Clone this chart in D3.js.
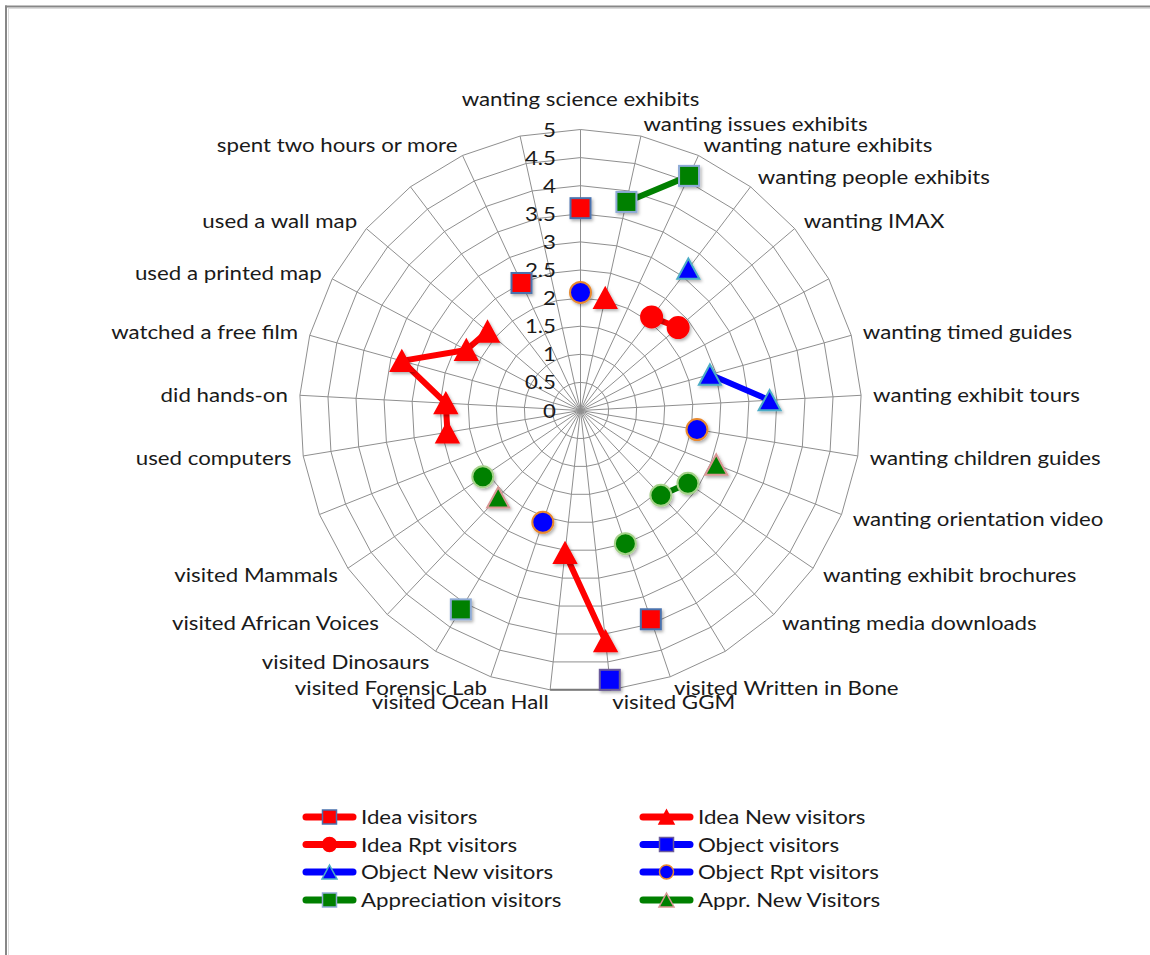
<!DOCTYPE html>
<html>
<head>
<meta charset="utf-8">
<script src="https://cdn.jsdelivr.net/npm/d3@7"></script>
<style>
html,body{margin:0;padding:0;background:#fff;}
svg{display:block;}
text{font-family:Lato,"Liberation Sans",sans-serif;fill:#1a1a1a;}
</style>
</head>
<body>
<svg id="chart" width="1150" height="955"></svg>
<script>
const N = null;
const categories = ["wanting science exhibits","wanting issues exhibits","wanting nature exhibits","wanting people exhibits","wanting IMAX","","wanting timed guides","wanting exhibit tours","wanting children guides","wanting orientation video","wanting exhibit brochures","wanting media downloads","","visited Written in Bone","visited GGM","visited Ocean Hall","visited Forensic Lab","visited Dinosaurs","visited African Voices","visited Mammals","","used computers","did hands-on","watched a free film","used a printed map","used a wall map","","spent two hours or more",""];
const valueTicks = [0,0.5,1,1.5,2,2.5,3,3.5,4,4.5,5];

const ideaVisitors        = [3.6,N,N,N,N,N,N,N,N,N,N,N,N,3.92,N,N,N,N,N,N,N,N,N,N,N,N,N,2.5,N];
const ideaNewVisitors     = [N,2.05,N,N,N,N,N,N,N,N,N,N,N,N,4.13,2.55,N,N,N,N,N,2.4,2.4,3.3,2.3,2.17,N,N,N];
const ideaRptVisitors     = [N,N,N,2.09,2.28,N,N,N,N,N,N,N,N,N,N,N,N,N,N,N,N,N,N,N,N,N,N,N,N];
const objectVisitors      = [N,N,N,N,N,N,N,N,N,N,N,N,N,N,4.82,N,N,N,N,N,N,N,N,N,N,N,N,N,N];
const objectNewVisitors   = [N,N,N,3.17,N,N,2.39,3.37,N,N,N,N,N,N,N,N,N,N,N,N,N,N,N,N,N,N,N,N,N];
const objectRptVisitors   = [2.1,N,N,N,N,N,N,N,2.1,N,N,N,N,N,N,N,2.1,N,N,N,N,N,N,N,N,N,N,N,N];
const apprVisitors        = [N,3.8,4.6,N,N,N,N,N,N,N,N,N,N,N,N,N,N,4.13,N,N,N,N,N,N,N,N,N,N,N];
const apprNewVisitors     = [N,N,N,N,N,N,N,N,N,2.6,N,N,N,N,N,N,N,N,2.13,N,N,N,N,N,N,N,N,N,N];
const apprRptVisitors     = [N,N,N,N,N,N,N,N,N,N,2.31,2.08,N,2.5,N,N,N,N,N,2.1,N,N,N,N,N,N,N,N,N];

const legendNames = ["Idea visitors","Idea New visitors","Idea Rpt visitors","Object visitors","Object New visitors","Object Rpt visitors","Appreciation visitors","Appr. New Visitors"];

const RED="#ff0000", BLUE="#0000ff", GREEN="#008000";
const series = [
  {name:legendNames[0], values:ideaVisitors,      color:RED,   shape:"square",   stroke:"#4a72ad", legend:true},
  {name:legendNames[1], values:ideaNewVisitors,   color:RED,   shape:"triangle", stroke:"#ff0000", legend:true},
  {name:legendNames[2], values:ideaRptVisitors,   color:RED,   shape:"circle",   stroke:"#ff0000", legend:true},
  {name:legendNames[3], values:objectVisitors,    color:BLUE,  shape:"square",   stroke:"#6a5a9c", legend:true},
  {name:legendNames[4], values:objectNewVisitors, color:BLUE,  shape:"triangle", stroke:"#4bacc6", legend:true},
  {name:legendNames[5], values:objectRptVisitors, color:BLUE,  shape:"circle",   stroke:"#e8892f", legend:true},
  {name:legendNames[6], values:apprVisitors,      color:GREEN, shape:"square",   stroke:"#8eaad6", legend:true},
  {name:legendNames[7], values:apprNewVisitors,   color:GREEN, shape:"triangle", stroke:"#d99694", legend:true},
  {name:"Appr. Rpt Visitors", values:apprRptVisitors, color:GREEN, shape:"circle", stroke:"#a6d28a", legend:false}
];

const W=1150, H=955, cx=580.5, cy=410.5, R=281;
const svg = d3.select("#chart");
const FONT = 20;

// horizontal scale calibration of the text face
const probe = svg.append("text").attr("font-size",FONT).text(categories[0]);
const kx = 238 / probe.node().getComputedTextLength();
probe.remove();

const defs = svg.append("defs");
const f = defs.append("filter").attr("id","shadow").attr("x","-50%").attr("y","-50%").attr("width","200%").attr("height","200%");
f.append("feDropShadow").attr("dx",1.5).attr("dy",2).attr("stdDeviation",1.5).attr("flood-color","#000").attr("flood-opacity",0.3);

// frame
svg.append("line").attr("x1",5).attr("y1",6.5).attr("x2",W).attr("y2",6.5).attr("stroke","#878787").attr("stroke-width",2);
svg.append("line").attr("x1",6).attr("y1",5.5).attr("x2",6).attr("y2",H).attr("stroke","#878787").attr("stroke-width",2);
svg.append("line").attr("x1",8).attr("y1",8.5).attr("x2",W).attr("y2",8.5).attr("stroke","#dcdcdc").attr("stroke-width",1);
svg.append("line").attr("x1",8.5).attr("y1",8).attr("x2",8.5).attr("y2",H).attr("stroke","#dcdcdc").attr("stroke-width",1);

const r = d3.scaleLinear().domain([0,5]).range([0,R]);
const angle = d3.scaleLinear().domain([0,categories.length]).range([0,2*Math.PI]);
const idx = d3.range(categories.length);

const g = svg.append("g").attr("transform",`translate(${cx},${cy})`);

// rings
const ring = d3.lineRadial().angle(i=>angle(i)).curve(d3.curveLinearClosed);
g.selectAll("path.ring").data(valueTicks.filter(v=>v>0)).join("path")
  .attr("class","ring")
  .attr("d", v => ring.radius(()=>r(v))(idx))
  .attr("fill","none").attr("stroke","#8f8f8f").attr("stroke-width",1);

// spokes
g.selectAll("line.spoke").data(idx).join("line")
  .attr("class","spoke")
  .attr("x1",0).attr("y1",0)
  .attr("x2",i=>r(5)*Math.sin(angle(i)))
  .attr("y2",i=>-r(5)*Math.cos(angle(i)))
  .attr("stroke","#8f8f8f").attr("stroke-width",1);

// darker bottom chord
g.append("path")
  .attr("d", d3.lineRadial().angle(i=>angle(i)).radius(()=>r(5))([14,15]))
  .attr("stroke","#7a7a7a").attr("stroke-width",2).attr("fill","none");

// value tick labels
const fmt = d3.format("");
g.selectAll("text.tick").data(valueTicks).join("text")
  .attr("class","tick")
  .attr("transform", v => `translate(-24.5,${-r(v)}) scale(${kx},1)`)
  .attr("text-anchor","end").attr("dy","0.35em")
  .attr("font-size",FONT)
  .text(v=>fmt(v));

// category labels
const LR = R + 12;
g.selectAll("text.cat").data(idx.filter(i=>categories[i]!=="")).join("text")
  .attr("class","cat")
  .attr("transform", i => {
    const a = angle(i), s = Math.sin(a), c = Math.cos(a);
    let x = LR*s, y = -LR*c;
    if (Math.abs(s) < 0.02) y = c > 0 ? -311.5 : 311.5;
    return `translate(${x},${y}) scale(${kx},1)`;
  })
  .attr("text-anchor", i => { const s=Math.sin(angle(i)); return Math.abs(s)<0.02 ? "middle" : (s>0 ? "start" : "end"); })
  .attr("dy","0.35em")
  .attr("font-size",FONT)
  .text(i=>categories[i]);

// marker drawing
function marker(sel, shape, size){
  if (shape==="square"){
    sel.append("rect").attr("x",-size/2).attr("y",-size/2).attr("width",size).attr("height",size);
  } else if (shape==="circle"){
    sel.append("circle").attr("r",size/2);
  } else {
    const w=size, h=size*0.92;
    sel.append("path").attr("d",`M0,${-h/2}L${w/2},${h/2}L${-w/2},${h/2}Z`);
  }
}

const line = d3.lineRadial()
  .defined(d=>d!=null)
  .angle((d,i)=>angle(i))
  .radius(d=>r(d));

series.forEach(s=>{
  const sg = g.append("g");
  sg.append("path")
    .attr("d", line(s.values))
    .attr("fill","none").attr("stroke",s.color).attr("stroke-width",6)
    .attr("stroke-linejoin","round").attr("stroke-linecap","round");
  const pts = idx.filter(i=>s.values[i]!=null);
  pts.forEach(i=>{
    const v=s.values[i], a=angle(i);
    const mg = sg.append("g")
      .attr("transform",`translate(${r(v)*Math.sin(a)},${-r(v)*Math.cos(a)})`)
      .attr("filter","url(#shadow)")
      .attr("fill",s.color).attr("stroke",s.stroke).attr("stroke-width",2);
    marker(mg, s.shape, s.shape==="triangle" ? 22 : (s.shape==="circle" ? 21 : 20));
  });
});

// legend
const lg = svg.append("g");
const legendItems = series.filter(s=>s.legend);
const colX = [303, 640], rowY = [817, 844.5, 872, 900];
legendItems.forEach((s,k)=>{
  const x0 = colX[k%2], y0 = rowY[Math.floor(k/2)];
  const it = lg.append("g").attr("transform",`translate(${x0},${y0})`);
  it.append("line").attr("x1",3).attr("x2",50).attr("y1",0).attr("y2",0)
    .attr("stroke",s.color).attr("stroke-width",7).attr("stroke-linecap","round");
  const mg = it.append("g").attr("transform","translate(26.5,0)")
    .attr("fill",s.color).attr("stroke",s.stroke).attr("stroke-width",1.5);
  marker(mg, s.shape, s.shape==="triangle" ? 15 : 14);
  it.append("text").attr("transform",`translate(58,0) scale(${kx},1)`)
    .attr("dy","0.35em").attr("font-size",FONT).text(s.name);
});
</script>
</body>
</html>
